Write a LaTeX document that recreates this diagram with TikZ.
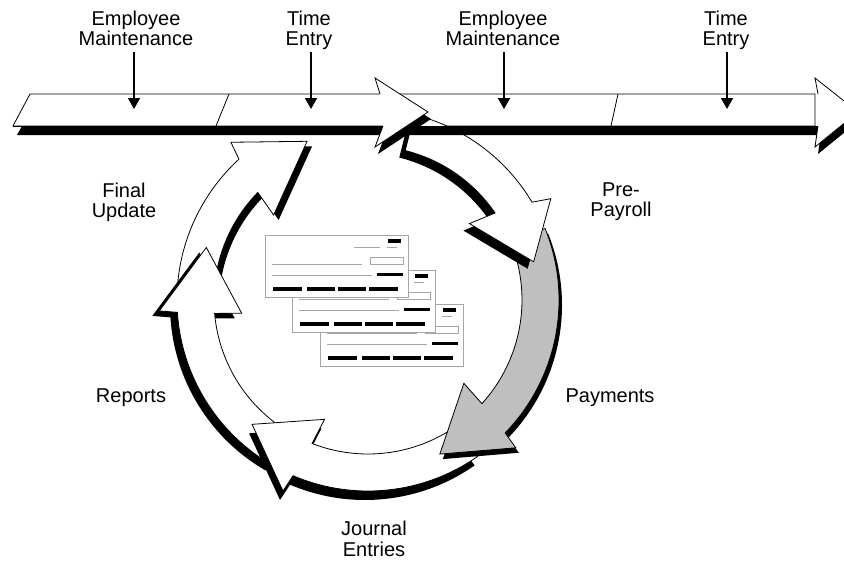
\documentclass[tikz,border=0pt]{standalone}
\usepackage{fontspec}
\setmainfont{Liberation Sans}
\usetikzlibrary{arrows.meta}

\tikzset{
  stagetext/.style={font=\fontsize{20}{20.5}\selectfont, align=center, inner sep=0pt, anchor=north},
  dropline/.style={line width=1.6pt, -{Triangle[width=12pt,length=11pt]}},
  ribbon/.style={draw=black, line width=0.8pt, line join=miter},
  chequeline/.style={gray!70, line width=0.6pt},
}

% curved block arrow of the cycle: tail, inner/outer junction, inner/outer barb, tip, shadow shift, fill
\newcommand{\cyclearrow}[8]{%
  \fill[black,shift={(#7)}] (#1:154) arc[start angle=#1,end angle=#2,radius=154] -- (#4:127) -- (#6:170)
    -- (#5:209) -- (#3:191) arc[start angle=#3,end angle=#1,radius=191] -- cycle;
  \filldraw[ribbon,fill=#8] (#1:154) arc[start angle=#1,end angle=#2,radius=154] -- (#4:127) -- (#6:170)
    -- (#5:209) -- (#3:191) arc[start angle=#3,end angle=#1,radius=191] -- cycle;
}

\begin{document}
\begin{tikzpicture}[x=1pt,y=1pt]
  \useasboundingbox (0,0) rectangle (844,-562);

  % time line
  \filldraw[ribbon,fill=white] (30,-94) -- (815,-94) -- (815,-126) -- (13,-126) -- cycle;
  \draw[ribbon] (229,-94) -- (216,-126) (618,-94) -- (611,-126);

  % payroll cycle
  \begin{scope}[shift={(368,-300)}]
    \cyclearrow{178}{135.7}{132.5}{138}{131}{111}{5,-5}{white}
    \cyclearrow{240}{185}{183.7}{186}{183}{162}{-7,-5}{white}
    \cyclearrow{-55}{-111.3}{-113.1}{-110}{-114}{-133}{-3,-9}{white}
    \cyclearrow{22}{-42.3}{-44.1}{-41}{-45}{-65}{3,-5}{gray!50}
    \cyclearrow{76}{34.4}{30.8}{37}{29}{13}{-6,-7}{white}
  \end{scope}

  \fill[black] (22,-126) -- (819,-126) -- (819,-135) -- (17,-135) -- cycle;
  \draw[ribbon] (13,-126) -- (815,-126);

  % heads of the time line
  \foreach \bx/\tx/\nt/\nb in {375/428/380/383, 815/858/818/818} {
    \fill[black,shift={(3,-7)}] (\nt,-94) -- (\bx,-78) -- (\tx,-112) -- (\bx,-147) -- (\nb,-126) -- cycle;
    \fill[white] (\nt,-94) -- (\bx,-78) -- (\tx,-112) -- (\bx,-147) -- (\nb,-126) -- cycle;
    \draw[ribbon] (\nt,-94) -- (\bx,-78) -- (\tx,-112) -- (\bx,-147) -- (\nb,-126);
  }

  % cheques
  \foreach \dx/\dy in {55/69, 27/35, 0/0} {
    \begin{scope}[shift={({265+\dx},{-235-\dy})}]
      \filldraw[fill=white,draw=gray!70,line width=0.8pt] (0,0) rectangle (143,-62);
      \fill (123,-4) rectangle (136,-7.5);
      \draw[chequeline] (89,-12.5) -- (115,-12.5) (122,-12.5) -- (132,-12.5);
      \draw[chequeline] (105,-22) rectangle (138,-29);
      \draw[chequeline] (7,-29) -- (97,-29) (7,-40) -- (107,-40);
      \fill (112,-38) rectangle (138,-41);
      \foreach \xa/\xb in {8/37, 42/70, 73/101, 104/133}
        \fill (\xa,-52) rectangle (\xb,-56);
    \end{scope}
  }

  % labels
  \node[stagetext] (maint1) at (136,-10.5) {Employee\\Maintenance};
  \node[stagetext] (entry1) at (309,-10.5) {Time\\Entry};
  \node[stagetext] (maint2) at (503,-10.5) {Employee\\Maintenance};
  \node[stagetext] (entry2) at (726,-10.5) {Time\\Entry};
  \node[stagetext] (final) at (124,-182.5) {Final\\Update};
  \node[stagetext] (prepay) at (621,-182.5) {Pre-\\Payroll};
  \node[stagetext] (reports) at (131,-389) {Reports};
  \node[stagetext] (payments) at (610,-389) {Payments};
  \node[stagetext] (journal) at (374,-521) {Journal\\Entries};

  \coordinate (maint1tip) at (134,-109);
  \coordinate (entry1tip) at (311,-109);
  \coordinate (maint2tip) at (504,-109);
  \coordinate (entry2tip) at (727,-109);
  \draw[dropline,shorten <=6pt] (maint1.south -| maint1tip) -- (maint1tip);
  \draw[dropline,shorten <=2pt] (entry1.south -| entry1tip) -- (entry1tip);
  \draw[dropline,shorten <=6pt] (maint2.south -| maint2tip) -- (maint2tip);
  \draw[dropline,shorten <=2pt] (entry2.south -| entry2tip) -- (entry2tip);
\end{tikzpicture}
\end{document}
